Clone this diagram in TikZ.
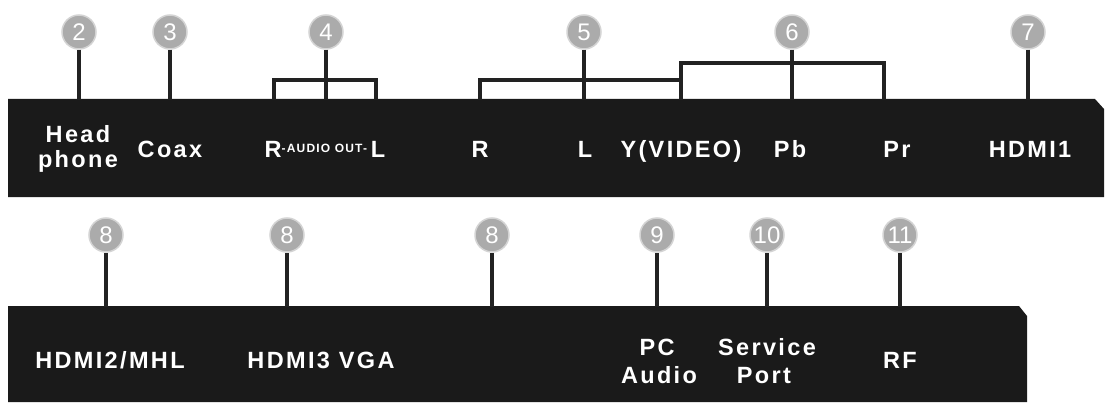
\documentclass[tikz,border=0pt]{standalone}
\usepackage{fontspec}
\newfontfamily\labfont{Liberation Sans}[LetterSpace=10]
\newfontfamily\numfont{Liberation Sans}
\definecolor{barblack}{HTML}{1A1A1A}
\definecolor{stemblack}{HTML}{222222}
\definecolor{badgegray}{HTML}{ABABAB}
\definecolor{badgerim}{HTML}{D4D4D4}
\tikzset{
  bar/.style={fill=barblack, draw=none},
  badge/.style={circle, fill=badgegray, draw=badgerim, line width=1.5pt, minimum size=34pt, inner sep=0pt, text=white, font=\numfont\fontsize{24}{24}\selectfont},
  stem/.style={draw=stemblack, line width=3.5pt, line join=miter},
  lab/.style={text=white, font=\labfont\bfseries\fontsize{23.5}{27}\selectfont, inner sep=0pt, anchor=base},
}
\begin{document}
\begin{tikzpicture}[x=1pt,y=-1pt]
\useasboundingbox (0,0) rectangle (1109,404);
% bars
\path[bar] (8,99) -- (1095,99) -- (1104,109) -- (1104,197) -- (8,197) -- cycle;
\path[bar] (8,306) -- (1019,306) -- (1027,316) -- (1027,402) -- (8,402) -- cycle;
% top badges
\node[badge] (c2) at (79,32) {2};
\node[badge] (c3) at (170,32) {3};
\node[badge] (c4) at (326,32) {4};
\node[badge] (c5) at (584,32) {5};
\node[badge] (c6) at (792,32) {6};
\node[badge] (c7) at (1028,32) {7};
% bottom badges
\node[badge] (c8a) at (106,235) {8};
\node[badge] (c8b) at (287,235) {8};
\node[badge] (c8c) at (492,235) {8};
\node[badge] (c9) at (657,235) {9};
\node[badge] (c10) at (767,235) {10};
\node[badge] (c11) at (900,235) {11};
% connector ends
\coordinate (p2) at (79,100);
\coordinate (p3) at (170,100);
\coordinate (p4) at (326,100);
\coordinate (a4L) at (274,100);
\coordinate (a4R) at (376,100);
\coordinate (m4) at (326,80);
\coordinate (p5) at (584,100);
\coordinate (a5L) at (480,100);
\coordinate (b5) at (681,80);
\coordinate (m5) at (584,80);
\coordinate (a6Y) at (681,100);
\coordinate (m6) at (792,63);
\coordinate (p6) at (792,100);
\coordinate (a6R) at (884,100);
\coordinate (p7) at (1028,100);
\coordinate (p8a) at (106,307);
\coordinate (p8b) at (287,307);
\coordinate (p8c) at (492,307);
\coordinate (p9) at (657,307);
\coordinate (p10) at (767,307);
\coordinate (p11) at (900,307);
% connectors
\draw[stem] (c2.south) -- (p2);
\draw[stem] (c3.south) -- (p3);
\draw[stem] (c4.south) -- (p4);
\draw[stem] (a4L) |- (m4) -| (a4R);
\draw[stem] (c5.south) -- (p5);
\draw[stem] (a5L) |- (m5) -- (b5);
\draw[stem] (a6Y) |- (m6) -| (a6R);
\draw[stem] (c6.south) -- (p6);
\draw[stem] (c7.south) -- (p7);
\draw[stem] (c8a.south) -- (p8a);
\draw[stem] (c8b.south) -- (p8b);
\draw[stem] (c8c.south) -- (p8c);
\draw[stem] (c9.south) -- (p9);
\draw[stem] (c10.south) -- (p10);
\draw[stem] (c11.south) -- (p11);
% top labels
\node[lab] (lhead) at (78,142) {Head};
\node[lab] (lphone) at (78,167) {phone};
\node[lab] (lcoax) at (170,157) {Coax};
\node[lab] (laudio) at (325,157) {R\raisebox{4.5pt}{\fontsize{12}{12}\selectfont -AUDIO OUT-}\,L};
\node[lab] (lr) at (480,157) {R};
\node[lab] (ll) at (585,157) {L};
\node[lab] (ly) at (681,157) {Y(VIDEO)};
\node[lab] (lpb) at (790,157) {Pb};
\node[lab] (lpr) at (897,157) {Pr};
\node[lab] (lhdmi1) at (1030,157) {HDMI1};
% bottom labels
\node[lab] (lhdmi2) at (110,368) {HDMI2/MHL};
\node[lab] (lhdmi3) at (321,368) {HDMI3 VGA};
\node[lab] (lpc) at (657,355) {PC};
\node[lab] (lpcaudio) at (659,383) {Audio};
\node[lab] (lservice) at (767,355) {Service};
\node[lab] (lport) at (764,383) {Port};
\node[lab] (lrf) at (900,368) {RF};
\end{tikzpicture}
\end{document}
